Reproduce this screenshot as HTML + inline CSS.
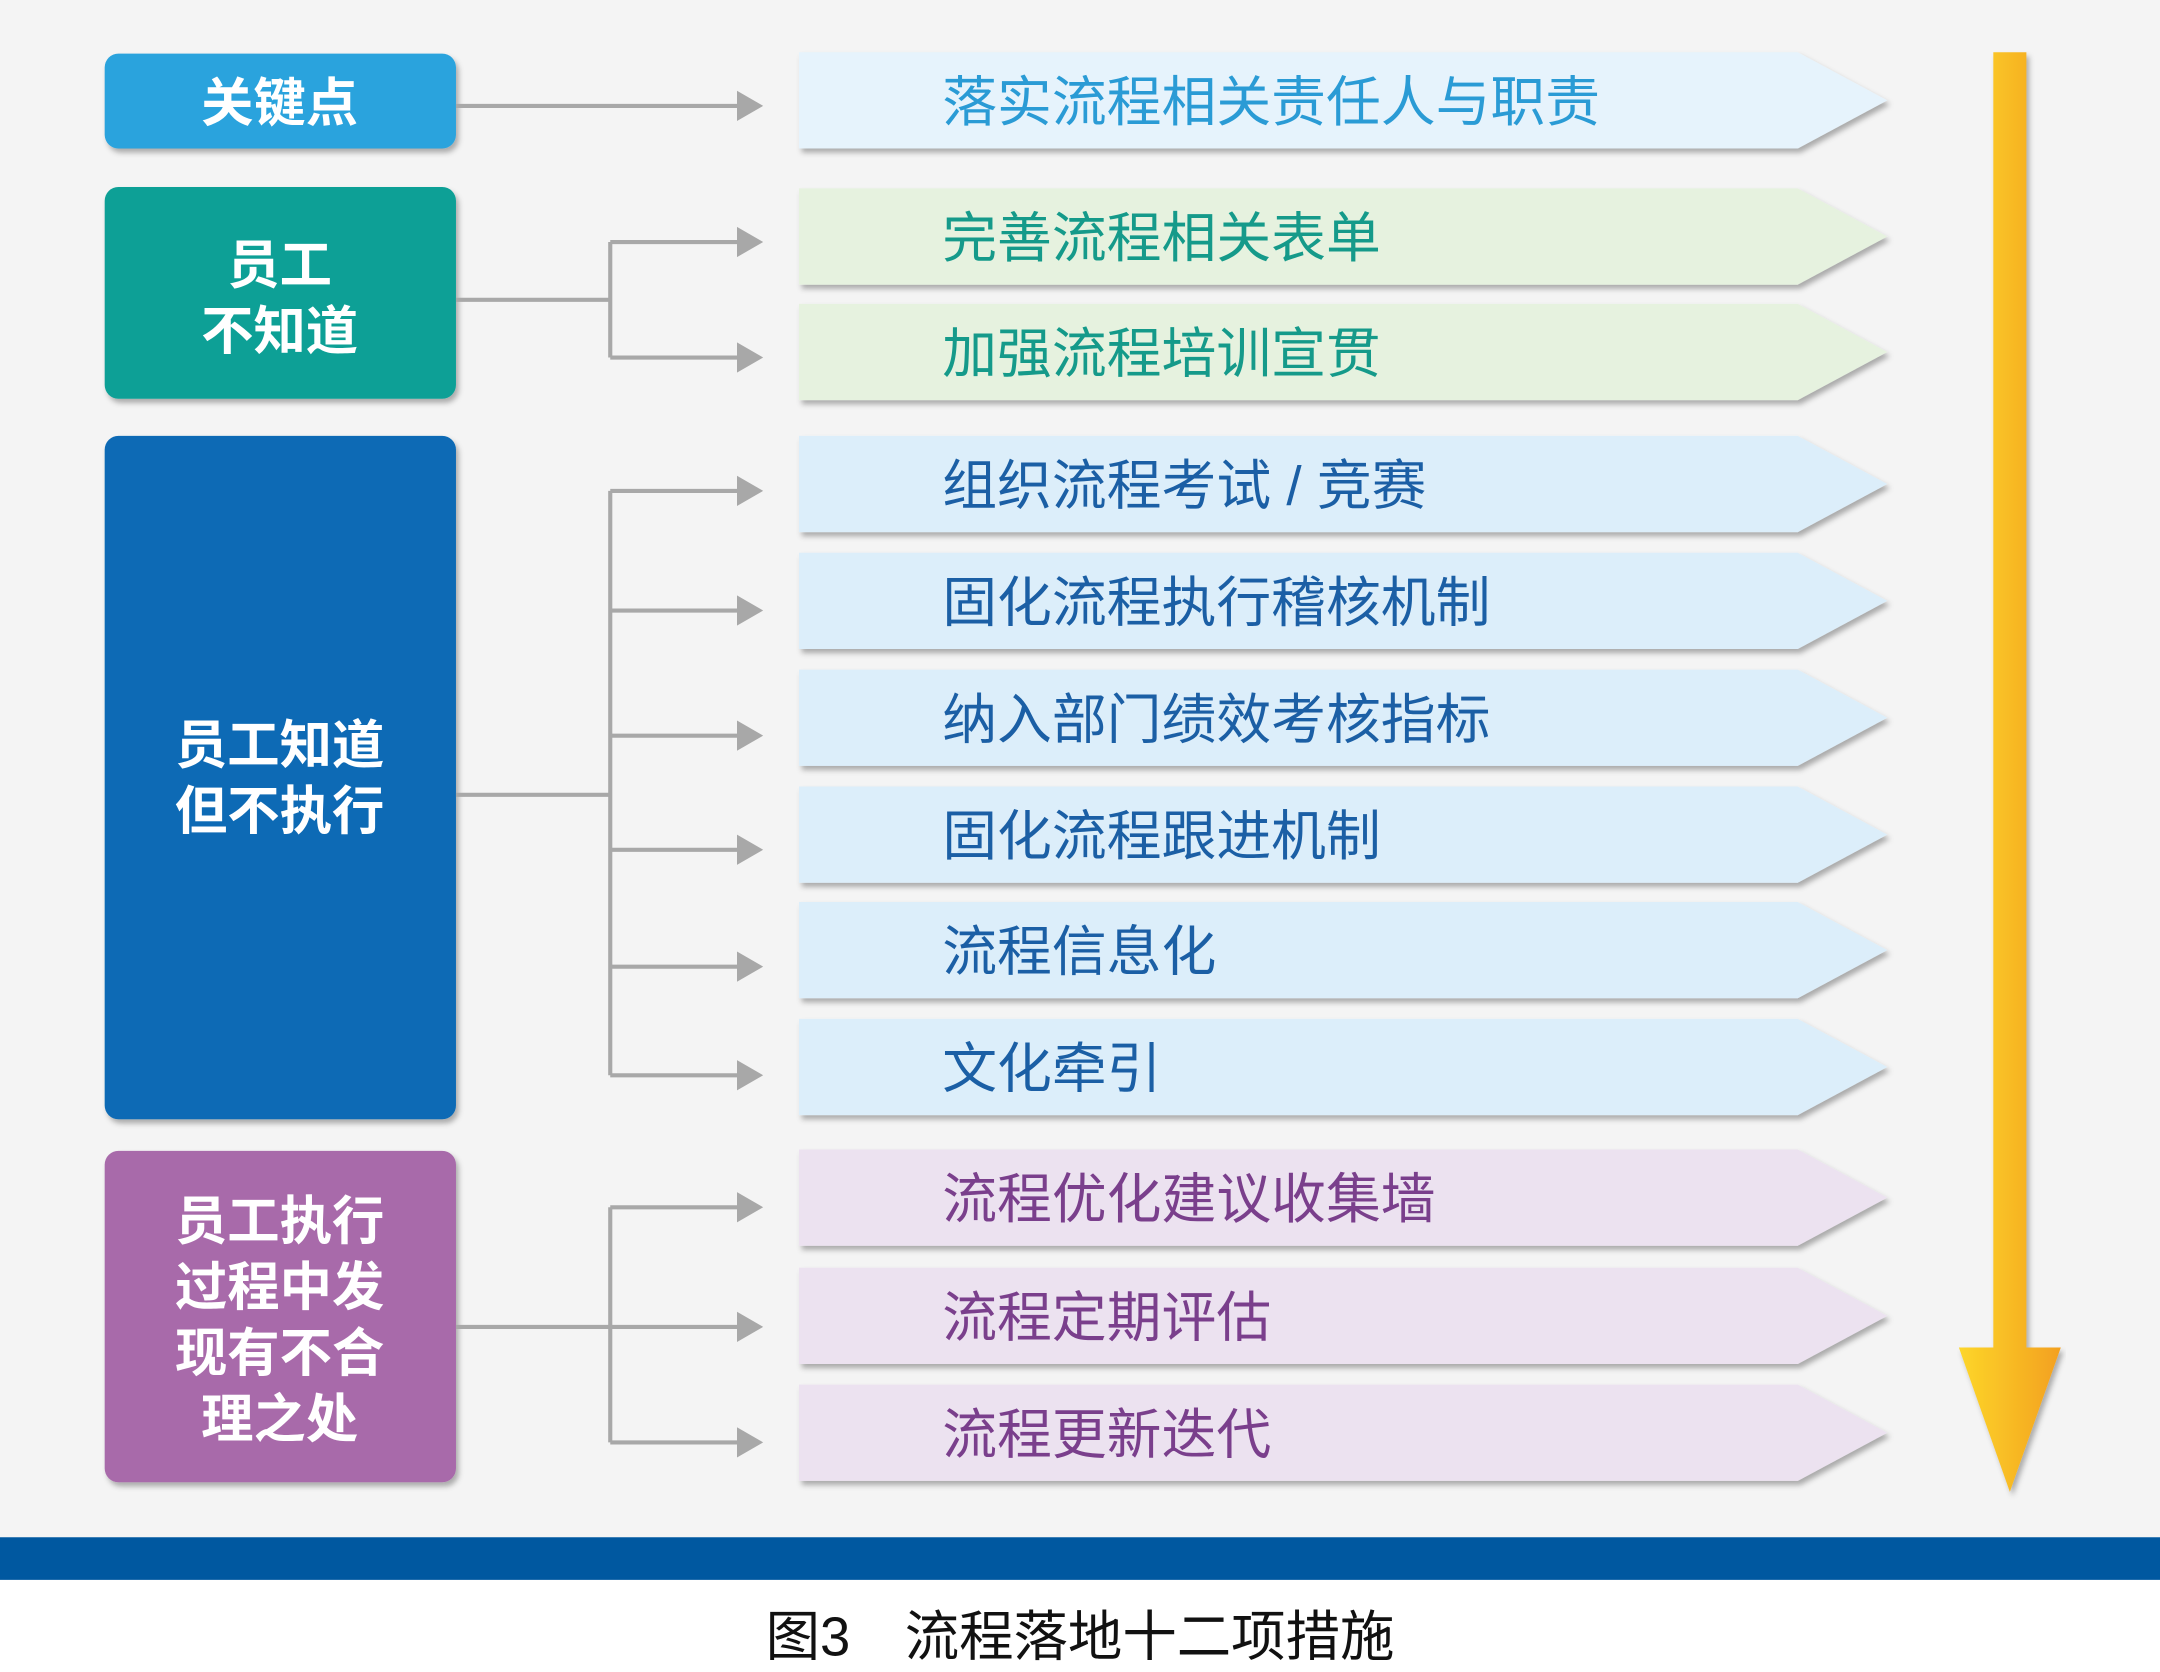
<!DOCTYPE html>
<html><head><meta charset="utf-8"><style>
html,body{margin:0;padding:0;background:#fff;}
svg{display:block;}
text{font-family:"Liberation Sans","Noto Sans CJK SC",sans-serif;}
</style></head><body>
<svg width="2160" height="1672" viewBox="0 0 1568 1216" preserveAspectRatio="none" xmlns="http://www.w3.org/2000/svg">
<defs>
<linearGradient id="yg" x1="0" x2="1" y1="0" y2="0"><stop offset="0" stop-color="#fdd62a"/><stop offset="1" stop-color="#f3a01f"/></linearGradient>
<filter id="sh" x="-5%" y="-10%" width="110%" height="130%"><feDropShadow dx="2" dy="3" stdDeviation="2" flood-color="#000" flood-opacity="0.3"/></filter>
</defs>
<rect x="0" y="0" width="1568" height="1118" fill="#f4f4f4"/>
<rect x="0" y="1118" width="1568" height="31" fill="#0058a0"/>
<text x="784" y="1204" font-size="39.5" text-anchor="middle" fill="#111">图3　流程落地十二项措施</text>

<g filter="url(#sh)">
<rect x="76" y="39" width="255" height="69" rx="10" fill="#2aa3dd"/>
<rect x="76" y="136" width="255" height="154" rx="10" fill="#0fa096"/>
<rect x="76" y="317" width="255" height="497" rx="10" fill="#0b6bb5"/>
<rect x="76" y="837" width="255" height="241" rx="10" fill="#a86aaa"/>
</g>
<g fill="#fff" font-size="38" font-weight="bold" text-anchor="middle">
<text x="203" y="88">关键点</text>
<text x="203" y="206">员工</text><text x="203" y="254">不知道</text>
<text x="203" y="555">员工知道</text><text x="203" y="603">但不执行</text>
<text x="203" y="901">员工执行</text><text x="203" y="949">过程中发</text><text x="203" y="997">现有不合</text><text x="203" y="1045">理之处</text>
</g>

<g stroke="#a8a8a8" stroke-width="3" fill="none">
<path d="M331 77H540"/>
<path d="M331 218H443M443 176V260M443 176H540M443 260H540"/>
<path d="M331 578H443M443 357V782M443 357H540M443 444H540M443 535H540M443 618H540M443 703H540M443 782H540"/>
<path d="M331 965H443M443 878V1049M443 878H540M443 965H540M443 1049H540"/>
</g>
<g fill="#a8a8a8">
<path d="M535 66L554 77L535 88Z"/>
<path d="M535 165L554 176L535 187Z"/><path d="M535 249L554 260L535 271Z"/>
<path d="M535 346L554 357L535 368Z"/><path d="M535 433L554 444L535 455Z"/><path d="M535 524L554 535L535 546Z"/>
<path d="M535 607L554 618L535 629Z"/><path d="M535 692L554 703L535 714Z"/><path d="M535 771L554 782L535 793Z"/>
<path d="M535 867L554 878L535 889Z"/><path d="M535 954L554 965L535 976Z"/><path d="M535 1038L554 1049L535 1060Z"/>
</g>

<g filter="url(#sh)">
<path d="M580 38H1305L1370 73L1305 108H580Z" fill="#e6f3fc"/>
<path d="M580 137H1305L1370 172L1305 207H580Z" fill="#e6f2df"/>
<path d="M580 221H1305L1370 256L1305 291H580Z" fill="#e6f2df"/>
<path d="M580 317H1305L1370 352L1305 387H580Z" fill="#dceefa"/>
<path d="M580 402H1305L1370 437L1305 472H580Z" fill="#dceefa"/>
<path d="M580 487H1305L1370 522L1305 557H580Z" fill="#dceefa"/>
<path d="M580 572H1305L1370 607L1305 642H580Z" fill="#dceefa"/>
<path d="M580 656H1305L1370 691L1305 726H580Z" fill="#dceefa"/>
<path d="M580 741H1305L1370 776L1305 811H580Z" fill="#dceefa"/>
<path d="M580 836H1305L1370 871L1305 906H580Z" fill="#ece2f0"/>
<path d="M580 922H1305L1370 957L1305 992H580Z" fill="#ece2f0"/>
<path d="M580 1007H1305L1370 1042L1305 1077H580Z" fill="#ece2f0"/>
</g>
<g font-size="39.8">
<text x="684" y="88" fill="#2a9bd5">落实流程相关责任人与职责</text>
<text x="684" y="187" fill="#159a8a">完善流程相关表单</text>
<text x="684" y="271" fill="#159a8a">加强流程培训宣贯</text>
<text x="684" y="367" fill="#1b5fa5">组织流程考试 / 竞赛</text>
<text x="684" y="452" fill="#1b5fa5">固化流程执行稽核机制</text>
<text x="684" y="537" fill="#1b5fa5">纳入部门绩效考核指标</text>
<text x="684" y="622" fill="#1b5fa5">固化流程跟进机制</text>
<text x="684" y="706" fill="#1b5fa5">流程信息化</text>
<text x="684" y="791" fill="#1b5fa5">文化牵引</text>
<text x="684" y="886" fill="#7a3f8c">流程优化建议收集墙</text>
<text x="684" y="972" fill="#7a3f8c">流程定期评估</text>
<text x="684" y="1057" fill="#7a3f8c">流程更新迭代</text>
</g>

<g filter="url(#sh)">
<path d="M1447 38H1471V980H1496L1459 1085L1422 980H1447Z" fill="url(#yg)"/>
</g>
</svg>
</body></html>
